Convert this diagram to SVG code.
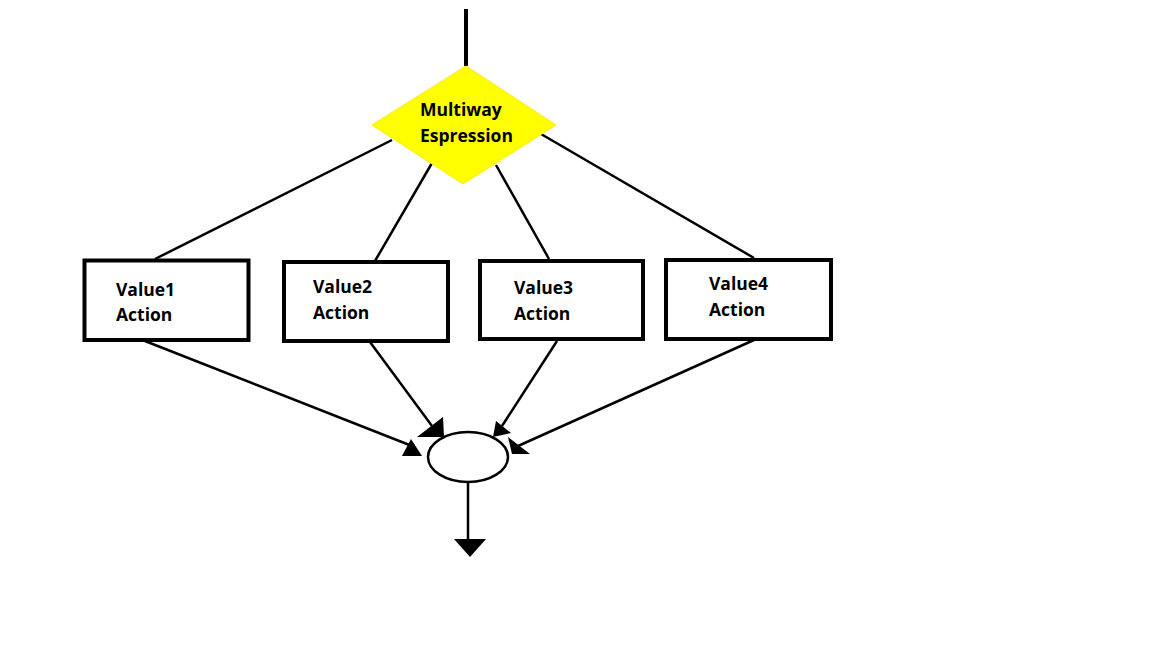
<svg xmlns="http://www.w3.org/2000/svg" width="1152" height="648" viewBox="0 0 1152 648">
<style>
.box{fill:#fff;stroke:#000;stroke-width:4}
.ln{stroke:#000;stroke-width:2.5;fill:none}
.ah{fill:#000;stroke:none}
text{font-family:"Open Sans","DejaVu Sans",sans-serif;font-weight:bold;font-size:17.5px;fill:#000}
</style>
<rect width="1152" height="648" fill="#fff"/>
<g id="connectors">
<line class="ln" x1="466" y1="9" x2="466" y2="66" style="stroke-width:4"/>
<line class="ln" x1="392" y1="140" x2="155" y2="259"/>
<line class="ln" x1="432" y1="163" x2="375" y2="261"/>
<line class="ln" x1="496" y1="165" x2="549" y2="259"/>
<line class="ln" x1="541" y1="134" x2="754" y2="258"/>
<line class="ln" x1="145" y1="341" x2="412" y2="446"/>
<line class="ln" x1="370" y1="342" x2="432" y2="426"/>
<line class="ln" x1="557" y1="341" x2="502" y2="426"/>
<line class="ln" x1="754" y1="340" x2="518" y2="446"/>
<line class="ln" x1="468" y1="482" x2="468" y2="541"/>
<polygon class="ah" points="402,456 411,439 422,456"/>
<polygon class="ah" points="417,437 443,417 444,437"/>
<polygon class="ah" points="493,437 496,421 511,433"/>
<polygon class="ah" points="508,437 512,454 530,454"/>
<polygon class="ah" points="454,539 486,539 470,557"/>
</g>
<g id="decision">
<polygon points="466,66 556,125 463,184 372,125" fill="#ffff00" stroke="#ffea00" stroke-width="1"/>
<text x="420" y="116">Multiway</text>
<text x="420" y="142">Espression</text>
</g>
<g id="value1">
<rect class="box" x="84.5" y="260.5" width="164" height="79.5"/>
<text x="116" y="296">Value1</text>
<text x="116" y="321">Action</text>
</g>
<g id="value2">
<rect class="box" x="284" y="262" width="164" height="79"/>
<text x="313" y="293">Value2</text>
<text x="313" y="319">Action</text>
</g>
<g id="value3">
<rect class="box" x="480" y="261" width="163" height="78"/>
<text x="514" y="294">Value3</text>
<text x="514" y="320">Action</text>
</g>
<g id="value4">
<rect class="box" x="666" y="260" width="165" height="79"/>
<text x="709" y="290">Value4</text>
<text x="709" y="316">Action</text>
</g>
<g id="merge">
<ellipse cx="468" cy="457" rx="40" ry="25" fill="#fff" stroke="#000" stroke-width="2.5"/>
</g>
</svg>
